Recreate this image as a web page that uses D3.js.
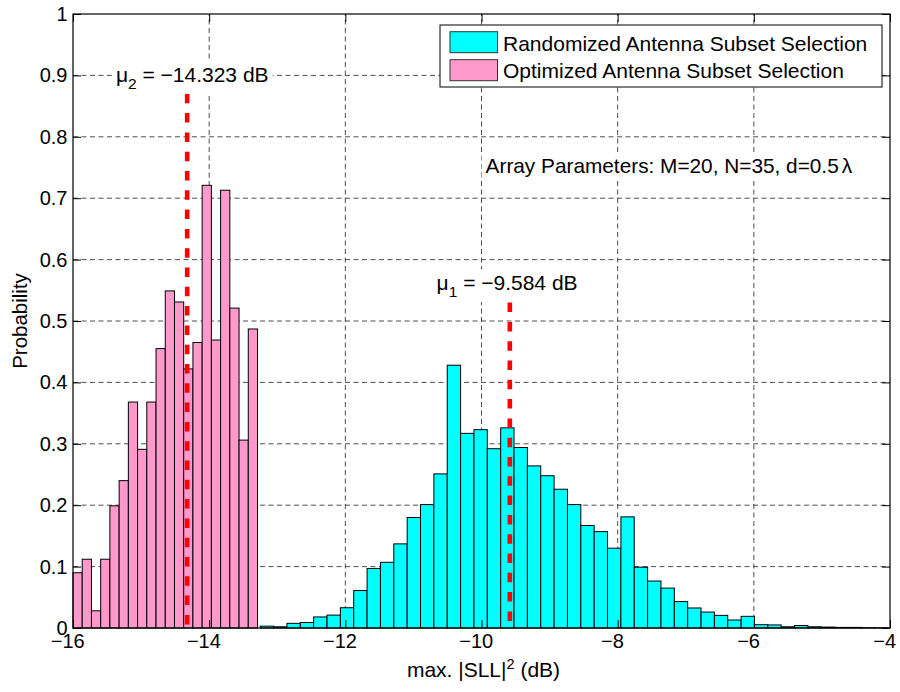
<!DOCTYPE html>
<html>
<head>
<meta charset="utf-8">
<script src="https://cdn.jsdelivr.net/npm/d3@7"></script>
<style>
  body { margin: 0; background: #fff; }
  text { font-family: "Liberation Sans", Arial, Helvetica, sans-serif; fill: #000; }
</style>
</head>
<body>
<svg id="chart" width="900" height="692"></svg>
<script>
// Histogram of the maximum sidelobe level, two subset-selection schemes
const optimizedStart = -16;      // left edge of first bin (dB)
const optimizedWidth = 0.1355;   // bin width (dB)
const optimizedProb = [0.090, 0.112, 0.028, 0.112, 0.199, 0.240, 0.368, 0.291, 0.368, 0.455,
                       0.549, 0.531, 0.422, 0.465, 0.721, 0.469, 0.713, 0.521, 0.306, 0.487];

const randomizedStart = -13.25;
const randomizedWidth = 0.1962;
const randomizedProb = [0.003, 0.002, 0.0076, 0.009, 0.018, 0.021, 0.033, 0.061, 0.097, 0.107,
                        0.137, 0.180, 0.201, 0.251, 0.428, 0.317, 0.323, 0.292, 0.326, 0.294,
                        0.264, 0.248, 0.226, 0.201, 0.167, 0.157, 0.130, 0.181, 0.099, 0.0765,
                        0.065, 0.043, 0.0326, 0.026, 0.0206, 0.013, 0.019, 0.0054, 0.005, 0.002,
                        0.004, 0.002, 0.0015, 0.001, 0.001, 0.0005, 0.0003];

// mean values and the height of their marker lines
const meanNames = ["1", "2"];
const meanValues = [-9.584, -14.323];
const meanTops = [0.53, 0.87];
// label anchors (data coordinates)
const meanLabelX = [-10.66, -15.37];
const meanLabelY = [0.5505, 0.89];

const xTicks = [-16, -14, -12, -10, -8, -6, -4];
const yTicks = [0, 0.1, 0.2, 0.3, 0.4, 0.5, 0.6, 0.7, 0.8, 0.9, 1];

const seriesNames = ["Randomized Antenna Subset Selection", "Optimized Antenna Subset Selection"];
const seriesColors = ["#00ffff", "#ff99cc"];

const svg = d3.select("#chart");
const x = d3.scaleLinear().domain([-16, -4]).range([73, 890]);
const y = d3.scaleLinear().domain([0, 1]).range([628, 14]);

// grid
const grid = svg.append("g").attr("stroke", "#222").attr("stroke-width", 0.8)
  .attr("stroke-dasharray", "5,3.5").attr("fill", "none");
grid.selectAll("line.gx").data(xTicks.slice(1, -1)).join("line")
  .attr("x1", d => x(d)).attr("x2", d => x(d)).attr("y1", y(0)).attr("y2", y(1));
grid.selectAll("line.gy").data(yTicks.slice(1, -1)).join("line")
  .attr("x1", x(-16)).attr("x2", x(-4)).attr("y1", d => y(d)).attr("y2", d => y(d));

// bars
function drawHist(values, start, width, color) {
  svg.append("g").selectAll("rect").data(values).join("rect")
    .attr("x", (d, i) => x(start + i * width))
    .attr("width", (d, i) => x(start + (i + 1) * width) - x(start + i * width))
    .attr("y", d => y(d))
    .attr("height", d => y(0) - y(d))
    .attr("fill", color).attr("stroke", "#000").attr("stroke-width", 1);
}
drawHist(randomizedProb, randomizedStart, randomizedWidth, seriesColors[0]);
drawHist(optimizedProb, optimizedStart, optimizedWidth, seriesColors[1]);

// axes (ticks pointing inward, MATLAB style)
const fmtX = d => d3.format("")(d);
const fmtY = d => String(+d.toFixed(1));
const gx = svg.append("g").attr("transform", `translate(0,${y(0)})`)
  .call(d3.axisBottom(x).tickValues(xTicks).tickSizeInner(-8).tickSizeOuter(0).tickPadding(5.5).tickFormat(fmtX));
gx.selectAll("text").attr("dx", d => d < 0 ? "-0.29em" : 0);
svg.append("g").attr("transform", `translate(0,${y(1)})`)
  .call(d3.axisTop(x).tickValues(xTicks).tickSizeInner(-8).tickSizeOuter(0).tickFormat(""));
svg.append("g").attr("transform", `translate(${x(-16)},0)`)
  .call(d3.axisLeft(y).tickValues(yTicks).tickSizeInner(-8).tickSizeOuter(0).tickPadding(5.5).tickFormat(fmtY));
svg.append("g").attr("transform", `translate(${x(-4)},0)`)
  .call(d3.axisRight(y).tickValues(yTicks).tickSizeInner(-8).tickSizeOuter(0).tickFormat(""));
svg.selectAll(".tick text").style("font-size", "20px").attr("fill", "#000");
svg.selectAll(".tick line").attr("stroke", "#000");
svg.selectAll(".domain").remove();
svg.append("rect").attr("x", x(-16)).attr("y", y(1))
  .attr("width", x(-4) - x(-16)).attr("height", y(0) - y(1))
  .attr("fill", "none").attr("stroke", "#000").attr("stroke-width", 1.2);

// mean markers
svg.append("g").selectAll("line").data(meanValues).join("line")
  .attr("x1", d => x(d)).attr("x2", d => x(d))
  .attr("y1", (d, i) => y(meanTops[i])).attr("y2", y(0))
  .attr("stroke", "#ff0000").attr("stroke-width", 4.6).attr("stroke-dasharray", "9.5,9.8");

// text with white backing box
function labelWithBox(build) {
  const g = svg.append("g");
  const bg = g.append("rect").attr("fill", "#fff");
  const t = build(g);
  const b = t.node().getBBox();
  bg.attr("x", b.x - 4).attr("y", b.y - 2).attr("width", b.width + 8).attr("height", b.height + 4);
  return g;
}

meanValues.forEach((v, i) => {
  labelWithBox(g => {
    const t = g.append("text").attr("x", x(meanLabelX[i])).attr("y", y(meanLabelY[i]))
      .style("font-size", "21px");
    t.append("tspan").text("\u03bc");
    t.append("tspan").attr("dy", 7).style("font-size", "15.5px").text(meanNames[i]);
    t.append("tspan").attr("dy", -7).text(" = " + d3.format(".3f")(v) + " dB");
    return t;
  });
});

labelWithBox(g => {
  const t = g.append("text").attr("x", x(-9.94)).attr("y", y(0.7405)).style("font-size", "20.8px");
  t.append("tspan").text("Array Parameters: M=20, N=35, d=0.5");
  t.append("tspan").attr("dx", 3).text("\u03bb");
  return t;
});

// axis titles
const xt = svg.append("text").attr("x", (x(-16) + x(-4)) / 2 + 2).attr("y", 676.5)
  .attr("text-anchor", "middle").style("font-size", "21px");
xt.append("tspan").text("max. |SLL|");
xt.append("tspan").attr("dy", -8).style("font-size", "14.5px").text("2");
xt.append("tspan").attr("dy", 8).text(" (dB)");

svg.append("text").attr("transform", `translate(27,${(y(0) + y(1)) / 2}) rotate(-90)`)
  .attr("text-anchor", "middle").style("font-size", "20.5px").text("Probability");

// legend
const lg = svg.append("g");
lg.append("rect").attr("x", 440).attr("y", 25).attr("width", 442).attr("height", 62)
  .attr("fill", "#fff").attr("stroke", "#000").attr("stroke-width", 1);
seriesNames.forEach((name, i) => {
  lg.append("rect").attr("x", 450).attr("y", 31.7 + i * 28).attr("width", 47.5).attr("height", 21)
    .attr("fill", seriesColors[i]).attr("stroke", "#333").attr("stroke-width", 1);
  lg.append("text").attr("x", 503).attr("y", 50.8 + i * 27.6).style("font-size", "21px").text(name);
});
</script>
</body>
</html>
